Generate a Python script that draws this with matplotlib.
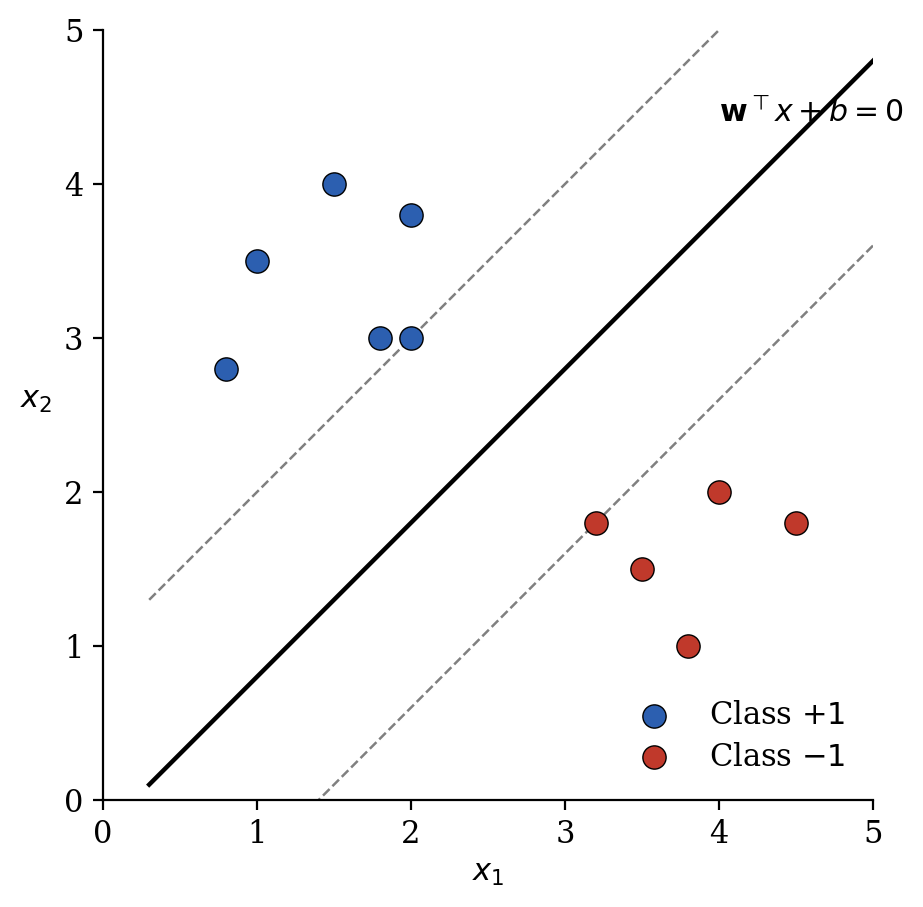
import matplotlib
matplotlib.use("Agg")
import matplotlib.pyplot as plt
import numpy as np

plt.rcParams['font.family'] = 'DejaVu Serif'
plt.rcParams['mathtext.fontset'] = 'dejavusans'

pos_x = [1.0, 1.5, 2.0, 0.8, 1.8, 2.0]
pos_y = [3.5, 4.0, 3.8, 2.8, 3.0, 3.0]
neg_x = [3.2, 3.5, 4.0, 4.5, 3.8]
neg_y = [1.8, 1.5, 2.0, 1.8, 1.0]

line_x = [0.3, 5.0]
w_slope = 1.0
b_int = -0.2
margin = 1.2

fig = plt.figure(figsize=(9.23/2, 9.07/2), dpi=200)
ax = fig.add_axes([103/923, 1-800/907, 770/923, 770/907])

xs = np.array(line_x)
ax.plot(xs, w_slope*xs + b_int, color='black', lw=1.6)
ax.plot(xs, w_slope*xs + b_int + margin, color='gray', lw=0.9, ls='--')
ax.plot(xs, w_slope*xs + b_int - margin, color='gray', lw=0.9, ls='--')

ax.scatter(pos_x, pos_y, s=70, color='#2c5fb0', edgecolor='black', linewidth=0.5, label='Class $+1$', zorder=3)
ax.scatter(neg_x, neg_y, s=70, color='#c0392b', edgecolor='black', linewidth=0.5, label='Class $-1$', zorder=3)

ax.text(4.0, 4.4, r'$\mathbf{w}^\top x + b = 0$', fontsize=10.8, clip_on=False)

ax.set_xlim(0, 5)
ax.set_ylim(0, 5)
ax.set_xticks(range(6))
ax.set_yticks(range(6))
ax.tick_params(labelsize=11)
ax.set_xlabel('$x_1$', fontsize=11, labelpad=2.5)
ax.set_ylabel('$x_2$', fontsize=11, rotation=0, labelpad=10)
ax.spines['top'].set_visible(False)
ax.spines['right'].set_visible(False)
ax.legend(loc='lower right', frameon=False, fontsize=11, labelspacing=0.35)

fig.savefig('out.png', dpi=200)
